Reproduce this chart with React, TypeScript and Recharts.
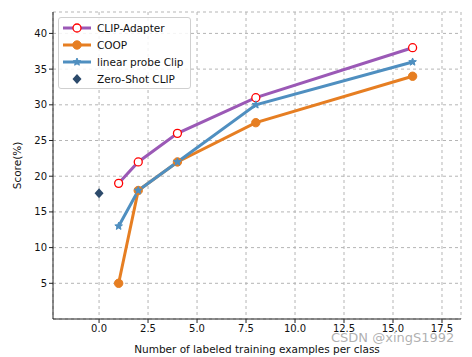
import React from "react";
import {
  ComposedChart,
  Line,
  Scatter,
  XAxis,
  YAxis,
  CartesianGrid,
} from "recharts";

const shots = [1, 2, 4, 8, 16];
const clipAdapter = [19, 22, 26, 31, 38];
const coop = [5, 18, 22, 27.5, 34];
const linearProbe = [13, 18, 22, 30, 36];
const zeroShotX = [0];
const zeroShotY = [17.6];
const xTicks = [0, 2.5, 5, 7.5, 10, 12.5, 15, 17.5];
const yTicks = [5, 10, 15, 20, 25, 30, 35, 40];

const PURPLE = "#9b59b6";
const ORANGE = "#e67e22";
const BLUE = "#4f8fc0";
const NAVY = "#2c4a6b";
const FONT = "DejaVu Sans, sans-serif";

const toPoints = (ys: number[]) => shots.map((x, i) => ({ x, y: ys[i] }));

function starPoints(cx: number, cy: number, r: number) {
  const pts: string[] = [];
  for (let i = 0; i < 10; i++) {
    const rad = i % 2 === 0 ? r : r * 0.45;
    const a = -Math.PI / 2 + (i * Math.PI) / 5;
    pts.push(`${cx + rad * Math.cos(a)},${cy + rad * Math.sin(a)}`);
  }
  return pts.join(" ");
}

const OpenCircle = (p: any) => (
  <circle key={p.index} cx={p.cx} cy={p.cy} r={4} fill="#fff" stroke="#ff0000" strokeWidth={1.3} />
);
const FilledCircle = (p: any) => (
  <circle key={p.index} cx={p.cx} cy={p.cy} r={4.2} fill={ORANGE} stroke={ORANGE} />
);
const Star = (p: any) => (
  <polygon key={p.index} points={starPoints(p.cx, p.cy, 4)} fill={BLUE} stroke={BLUE} />
);
const Diamond = (p: any) => (
  <polygon
    points={`${p.cx},${p.cy - 5} ${p.cx + 4.5},${p.cy} ${p.cx},${p.cy + 5} ${p.cx - 4.5},${p.cy}`}
    fill={NAVY}
  />
);

const legendRows = [
  { name: "CLIP-Adapter", color: PURPLE, marker: "open" },
  { name: "COOP", color: ORANGE, marker: "filled" },
  { name: "linear probe Clip", color: BLUE, marker: "star" },
  { name: "Zero-Shot CLIP", color: NAVY, marker: "diamond" },
];

function LegendBox() {
  return (
    <div
      style={{
        position: "absolute",
        left: 58,
        top: 17,
        border: "1px solid #d0d0d0",
        borderRadius: 3,
        background: "rgba(255,255,255,0.85)",
        padding: "1px 6px 1px 3px",
        fontFamily: FONT,
        fontSize: 10.5,
        color: "#111",
      }}
    >
      {legendRows.map((r) => (
        <div key={r.name} style={{ display: "flex", alignItems: "center", height: 17 }}>
          <svg width={30} height={14} style={{ marginRight: 5 }}>
            {r.marker !== "diamond" && (
              <line x1={1} y1={7} x2={29} y2={7} stroke={r.color} strokeWidth={3} />
            )}
            {r.marker === "open" && <OpenCircle cx={15} cy={7} />}
            {r.marker === "filled" && <FilledCircle cx={15} cy={7} />}
            {r.marker === "star" && <Star cx={15} cy={7} />}
            {r.marker === "diamond" && <Diamond cx={15} cy={7} />}
          </svg>
          <span>{r.name}</span>
        </div>
      ))}
    </div>
  );
}

export default function App() {
  const tickStyle = { fontSize: 10, fill: "#111", fontFamily: FONT };
  return (
    <div style={{ position: "absolute", left: 0, top: 0, width: 472, height: 357, background: "#fff" }}>
      <ComposedChart
        width={472}
        height={357}
        margin={{ top: 12, right: 11, left: 0, bottom: 0 }}
      >
        <CartesianGrid stroke="#b5b5b5" strokeDasharray="3 3" />
        <XAxis
          type="number"
          dataKey="x"
          domain={[-2.35, 18.47]}
          allowDataOverflow
          ticks={xTicks}
          tickFormatter={(v: number) => v.toFixed(1)}
          tick={tickStyle}
          tickSize={4}
          tickLine={{ stroke: "#222" }}
          axisLine={{ stroke: "#222" }}
          height={38}
          label={{
            value: "Number of labeled training examples per class",
            position: "insideBottom",
            offset: 4,
            style: { fontSize: 10.5, fill: "#111", fontFamily: FONT },
          }}
        />
        <XAxis
          xAxisId="top"
          orientation="top"
          type="number"
          domain={[-2.35, 18.47]}
          tick={false}
          tickLine={false}
          axisLine={{ stroke: "#222" }}
          height={0}
        />
        <YAxis
          type="number"
          dataKey="y"
          domain={[0, 43]}
          allowDataOverflow
          ticks={yTicks}
          tick={tickStyle}
          tickSize={4}
          tickLine={{ stroke: "#222" }}
          axisLine={{ stroke: "#222" }}
          width={53}
          label={{
            value: "Score(%)",
            angle: -90,
            position: "insideLeft",
            offset: 17,
            style: { fontSize: 10.5, fill: "#111", fontFamily: FONT, textAnchor: "middle" },
          }}
        />
        <YAxis
          yAxisId="right"
          orientation="right"
          type="number"
          domain={[0, 43]}
          tick={false}
          tickLine={false}
          axisLine={{ stroke: "#222" }}
          width={0}
        />
        <Line
          data={toPoints(clipAdapter)}
          dataKey="y"
          name="CLIP-Adapter"
          stroke={PURPLE}
          strokeWidth={3}
          dot={OpenCircle}
          isAnimationActive={false}
        />
        <Line
          data={toPoints(coop)}
          dataKey="y"
          name="COOP"
          stroke={ORANGE}
          strokeWidth={3}
          dot={FilledCircle}
          isAnimationActive={false}
        />
        <Line
          data={toPoints(linearProbe)}
          dataKey="y"
          name="linear probe Clip"
          stroke={BLUE}
          strokeWidth={3}
          dot={Star}
          isAnimationActive={false}
        />
        <Scatter
          data={zeroShotX.map((x, i) => ({ x, y: zeroShotY[i] }))}
          dataKey="y"
          name="Zero-Shot CLIP"
          fill={NAVY}
          shape={Diamond}
          isAnimationActive={false}
        />
      </ComposedChart>
      <LegendBox />
      <div
        style={{
          position: "absolute",
          left: 331,
          top: 330,
          fontFamily: FONT,
          fontSize: 13,
          color: "rgba(150,150,150,0.75)",
          whiteSpace: "nowrap",
        }}
      >
        CSDN @xingS1992
      </div>
    </div>
  );
}
